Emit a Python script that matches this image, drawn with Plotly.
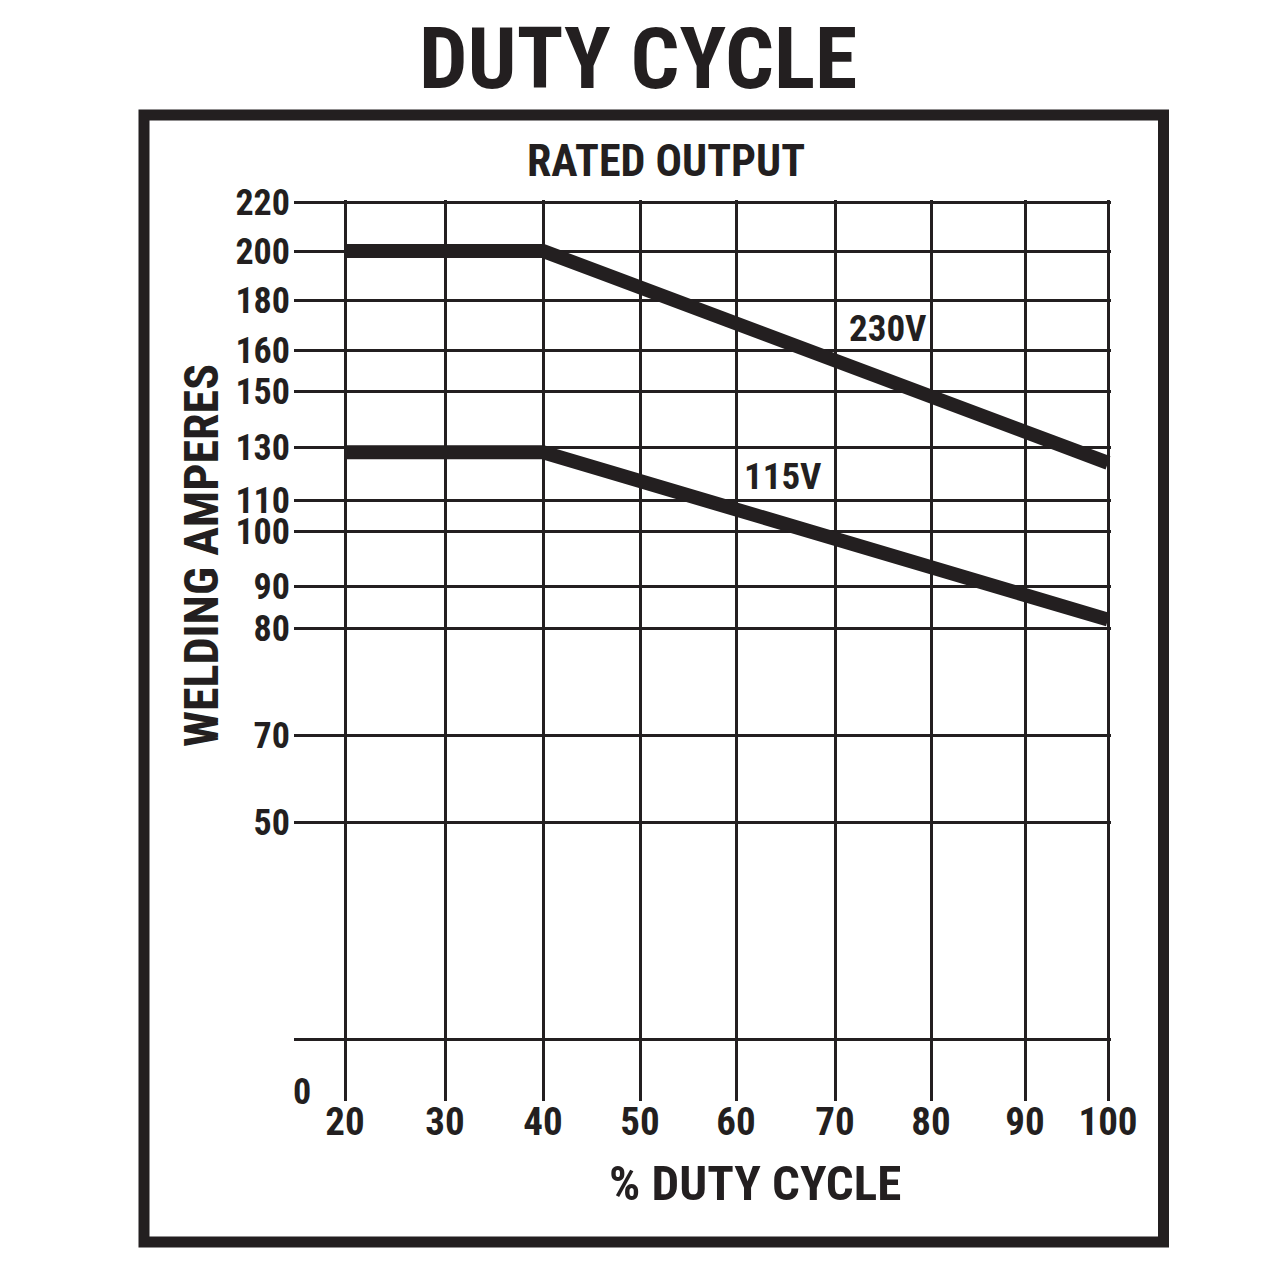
import numpy as np
import plotly.graph_objects as go

# ---------------- data ----------------
duty_cycle = [20, 40, 100]
amps_230v = [200, 200, 124]
amps_115v = [128, 128, 82]

x_tick_values = [20, 30, 40, 50, 60, 70, 80, 90, 100]
y_tick_values = [50, 70, 80, 90, 100, 110, 130, 150, 160, 180, 200, 220]

# ---------------- non-uniform axis scales (value -> axis coordinate) ----------------
X_POS = [345, 445, 543, 640, 736, 835, 931, 1025, 1108]
Y_POS = [822, 735, 628, 586, 531, 500, 447, 391, 350, 300, 251, 202]
Y_EXTRA_GRID = 1039  # unlabeled grid line near the bottom

def xs(v):
    return np.interp(v, x_tick_values, X_POS)

def ys(v):
    return np.interp(v, y_tick_values, Y_POS)

INK = "#231f20"
FONT = "Liberation Sans Narrow, Arial Narrow, Roboto Condensed, DejaVu Sans Condensed, Liberation Sans, sans-serif"

W = H = 1280
X0, X1 = 294, 1111
Y0, Y1 = 200, 1101  # top, bottom pixels

def px(x):
    return (x - X0) / (X1 - X0)

def py(y):
    return (Y1 - y) / (Y1 - Y0)

fig = go.Figure()

for amps in (amps_230v, amps_115v):
    fig.add_trace(go.Scatter(
        x=xs(duty_cycle), y=ys(amps), mode="lines",
        line=dict(color=INK, width=14),
        hoverinfo="skip", showlegend=False, cliponaxis=False,
    ))

fig.update_layout(
    width=W, height=H,
    margin=dict(l=X0, r=W - X1, t=Y0, b=H - Y1, pad=0),
    paper_bgcolor="white", plot_bgcolor="white",
    showlegend=False,
    xaxis=dict(
        range=[X0, X1], tickmode="array",
        tickvals=X_POS, ticktext=[str(v) for v in x_tick_values],
        showgrid=True, gridcolor=INK, gridwidth=3,
        zeroline=False, showline=False, ticks="",
        tickfont=dict(family=FONT, size=39, color=INK, weight="bold"),
        ticklabelstandoff=-6,
    ),
    yaxis=dict(
        range=[Y1, Y0], tickmode="array",
        tickvals=Y_POS + [Y_EXTRA_GRID],
        ticktext=[str(v) for v in y_tick_values] + [""],
        showgrid=True, gridcolor=INK, gridwidth=3,
        zeroline=False, showline=False, ticks="",
        tickfont=dict(family=FONT, size=36, color=INK, weight="bold"),
        ticklabelstandoff=3,
    ),
)

def text(x, y, s, size, angle=0):
    fig.add_annotation(
        x=px(x), y=py(y), xref="paper", yref="paper", text=s, showarrow=False,
        xanchor="center", yanchor="middle", textangle=angle,
        font=dict(family=FONT, size=size, color=INK, weight="bold"),
    )

text(638, 59, "DUTY CYCLE", 86)
text(666, 161, "RATED OUTPUT", 44)
text(755, 1183, "% DUTY CYCLE", 49)
text(201, 556, "WELDING AMPERES", 48, angle=-90)
text(888, 328, "230V", 37)
text(783, 476, "115V", 37)
text(302, 1092, "0", 36)

# outer frame
fig.add_shape(
    type="rect", xref="paper", yref="paper",
    x0=px(144), x1=px(1163.5), y0=py(115), y1=py(1242),
    line=dict(color=INK, width=11), fillcolor="rgba(0,0,0,0)", layer="above",
)

fig.write_html("out.html")
